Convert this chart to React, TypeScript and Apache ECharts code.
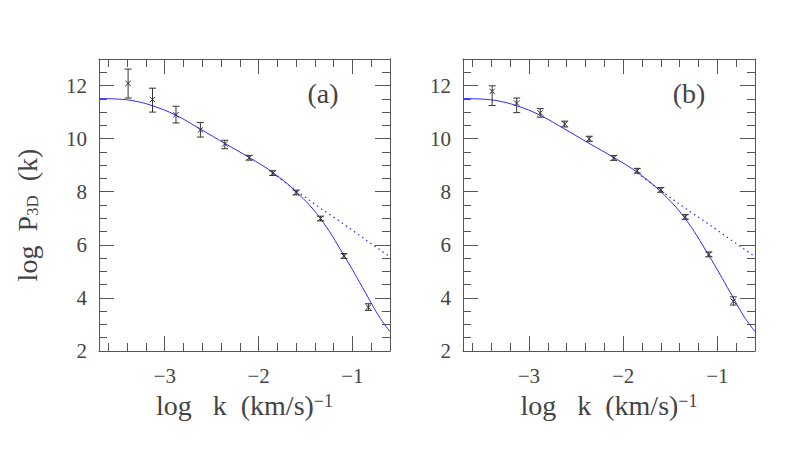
import React, { useEffect, useRef } from "react";
import * as echarts from "echarts";

// Measured points (log k, log P3D) with lower / upper error-bar ends
const kPts = [-3.39, -3.13, -2.88, -2.62, -2.36, -2.10, -1.85, -1.60, -1.34, -1.09, -0.83];

const pA = [12.08, 11.47, 10.90, 10.33, 9.80, 9.28, 8.70, 7.97, 6.99, 5.58, 3.65];
const loA = [11.53, 11.00, 10.59, 10.06, 9.62, 9.19, 8.61, 7.88, 6.90, 5.49, 3.53];
const hiA = [12.62, 11.90, 11.22, 10.61, 9.94, 9.37, 8.79, 8.06, 7.08, 5.67, 3.78];

const pB = [11.78, 11.34, 10.97, 10.55, 9.99, 9.27, 8.79, 8.07, 7.05, 5.64, 3.87];
const loB = [11.25, 10.98, 10.81, 10.44, 9.90, 9.18, 8.70, 7.98, 6.96, 5.55, 3.73];
const hiB = [11.99, 11.53, 11.13, 10.66, 10.09, 9.36, 8.88, 8.16, 7.14, 5.73, 4.04];

// Model curve (solid)
const fitK = [-3.7, -3.5, -3.34, -3.13, -2.88, -2.62, -2.36, -2.10, -1.85, -1.60, -1.35, -1.09, -0.86, -0.72, -0.6];
const fitP = [11.51, 11.49, 11.43, 11.24, 10.88, 10.36, 9.82, 9.29, 8.73, 8.0, 7.03, 5.60, 4.19, 3.32, 2.73];

// Power-law continuation (dotted)
const powK = [-1.85, -1.60, -1.35, -1.10, -0.85, -0.6];
const powP = [8.70, 8.04, 7.40, 6.80, 6.17, 5.55];

// Axis ticks
const xMajor = [-3, -2, -1];
const xMinor = [-3.6, -3.4, -3.2, -2.8, -2.6, -2.4, -2.2, -1.8, -1.6, -1.4, -1.2, -0.8];
const yMajor = [2, 4, 6, 8, 10, 12];
const yMinor = [2.5, 3, 3.5, 4.5, 5, 5.5, 6.5, 7, 7.5, 8.5, 9, 9.5, 10.5, 11, 11.5, 12.5];

const panelLabels = ["(a)", "(b)"];

const FONT = "'Liberation Serif', 'DejaVu Serif', serif";
const AX = "#555";
const TXT = "#444";
const BLUE = "#2b2bff";

function renderErr(params: any, api: any) {
  const k = api.value(0);
  const p = api.value(1);
  const lo = api.value(2);
  const hi = api.value(3);
  const c = api.coord([k, p]);
  const l = api.coord([k, lo]);
  const h = api.coord([k, hi]);
  const cap = 3.5;
  const m = 2.7;
  const style = { stroke: "#333", lineWidth: 1, fill: null };
  return {
    type: "group",
    children: [
      { type: "line", shape: { x1: c[0], y1: l[1], x2: c[0], y2: h[1] }, style },
      { type: "line", shape: { x1: c[0] - cap, y1: l[1], x2: c[0] + cap, y2: l[1] }, style },
      { type: "line", shape: { x1: c[0] - cap, y1: h[1], x2: c[0] + cap, y2: h[1] }, style },
      { type: "line", shape: { x1: c[0] - m, y1: c[1] - m, x2: c[0] + m, y2: c[1] + m }, style },
      { type: "line", shape: { x1: c[0] - m, y1: c[1] + m, x2: c[0] + m, y2: c[1] - m }, style },
    ],
  };
}

export default function App() {
  const ref = useRef<HTMLDivElement>(null);
  useEffect(() => {
    if (!ref.current) return;
    const chart = echarts.init(ref.current, null, { renderer: "svg" });
    const lineStyle = { color: AX, width: 1 };
    const grids = [
      { left: 99, top: 59, width: 291, height: 292 },
      { left: 463, top: 59, width: 292, height: 292 },
    ];
    const xAxes: any[] = [];
    const yAxes: any[] = [];
    const series: any[] = [];
    const graphics: any[] = [];
    grids.forEach((g, gi) => {
      const baseX = {
        gridIndex: gi,
        type: "value",
        min: -3.7,
        max: -0.6,
        splitLine: { show: false },
      };
      xAxes.push({
        ...baseX,
        position: "bottom",
        axisLine: { show: true, onZero: false, lineStyle },
        axisTick: { show: true, inside: true, length: 15, customValues: xMajor, lineStyle },
        axisLabel: {
          show: true,
          customValues: xMajor,
          formatter: (v: number) => (v < 0 ? "\u2212" + Math.abs(v) : String(v)),
          margin: 14,
          fontFamily: FONT,
          fontSize: 21,
          color: TXT,
        },
        name: "{a|log   k  (km/s)}{s|\u22121}",
        nameLocation: "middle",
        nameGap: 40,
        nameTextStyle: {
          rich: {
            a: { fontFamily: FONT, fontSize: 28, color: TXT },
            s: { fontFamily: FONT, fontSize: 18, color: TXT, padding: [0, 0, 8, 0] },
          },
        },
      });
      xAxes.push({
        ...baseX,
        position: "bottom",
        axisLine: { show: false, onZero: false },
        axisTick: { show: true, inside: true, length: 8, customValues: xMinor, lineStyle },
        axisLabel: { show: false },
      });
      xAxes.push({
        ...baseX,
        position: "top",
        axisLine: { show: true, onZero: false, lineStyle },
        axisTick: { show: true, inside: true, length: 15, customValues: xMajor, lineStyle },
        axisLabel: { show: false },
      });
      xAxes.push({
        ...baseX,
        position: "top",
        axisLine: { show: false, onZero: false },
        axisTick: { show: true, inside: true, length: 8, customValues: xMinor, lineStyle },
        axisLabel: { show: false },
      });
      const baseY = {
        gridIndex: gi,
        type: "value",
        min: 2,
        max: 13,
        splitLine: { show: false },
      };
      yAxes.push({
        ...baseY,
        position: "left",
        axisLine: { show: true, onZero: false, lineStyle },
        axisTick: { show: true, inside: true, length: 15, customValues: yMajor, lineStyle },
        axisLabel: {
          show: true,
          customValues: yMajor,
          margin: 12,
          fontFamily: FONT,
          fontSize: 21,
          color: TXT,
        },
        ...(gi === 0
          ? {
              name: "{a|log  P}{s|3D}{a|  (k)}",
              nameLocation: "middle",
              nameGap: 58,
              nameTextStyle: {
                padding: [0, 20, 0, 0],
                rich: {
                  a: { fontFamily: FONT, fontSize: 28, color: TXT },
                  s: { fontFamily: FONT, fontSize: 17, color: TXT, padding: [10, 0, 0, 0] },
                },
              },
            }
          : {}),
      });
      yAxes.push({
        ...baseY,
        position: "left",
        axisLine: { show: false, onZero: false },
        axisTick: { show: true, inside: true, length: 8, customValues: yMinor, lineStyle },
        axisLabel: { show: false },
      });
      yAxes.push({
        ...baseY,
        position: "right",
        axisLine: { show: true, onZero: false, lineStyle },
        axisTick: { show: true, inside: true, length: 15, customValues: yMajor, lineStyle },
        axisLabel: { show: false },
      });
      yAxes.push({
        ...baseY,
        position: "right",
        axisLine: { show: false, onZero: false },
        axisTick: { show: true, inside: true, length: 8, customValues: yMinor, lineStyle },
        axisLabel: { show: false },
      });

      const p = gi === 0 ? pA : pB;
      const lo = gi === 0 ? loA : loB;
      const hi = gi === 0 ? hiA : hiB;
      series.push({
        type: "line",
        xAxisIndex: gi * 4,
        yAxisIndex: gi * 4,
        data: fitK.map((k, i) => [k, fitP[i]]),
        smooth: 0.4,
        showSymbol: false,
        lineStyle: { color: BLUE, width: 1 },
        z: 2,
      });
      series.push({
        type: "line",
        xAxisIndex: gi * 4,
        yAxisIndex: gi * 4,
        data: powK.map((k, i) => [k, powP[i]]),
        showSymbol: false,
        lineStyle: { color: BLUE, width: 1.2, type: [1.5, 3.5] },
        z: 2,
      });
      series.push({
        type: "custom",
        xAxisIndex: gi * 4,
        yAxisIndex: gi * 4,
        renderItem: renderErr,
        encode: { x: 0, y: 1 },
        data: kPts.map((k, i) => [k, p[i], lo[i], hi[i]]),
        z: 3,
      });
      graphics.push({
        type: "text",
        x: gi === 0 ? 323 : 689,
        y: 93,
        style: {
          text: panelLabels[gi],
          font: `28px ${FONT}`,
          fill: TXT,
          textAlign: "center",
          textVerticalAlign: "middle",
        },
      });
    });

    chart.setOption({
      animation: false,
      backgroundColor: "#ffffff",
      grid: grids,
      xAxis: xAxes,
      yAxis: yAxes,
      series,
      graphic: graphics,
    });
    return () => chart.dispose();
  }, []);
  return (
    <div
      ref={ref}
      style={{ position: "fixed", left: 0, top: 0, width: 797, height: 449 }}
    />
  );
}
